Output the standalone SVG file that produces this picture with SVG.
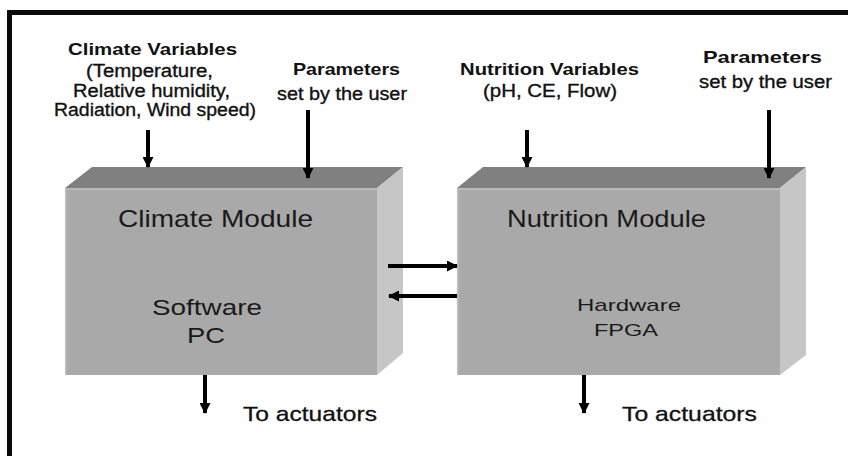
<svg xmlns="http://www.w3.org/2000/svg" width="848" height="456" viewBox="0 0 848 456">
<defs>
<style>
text{font-family:"Liberation Sans",Arial,sans-serif;fill:#111;}
.b{font-weight:bold;font-size:17px;}
.s{font-size:18px;stroke:#111;stroke-width:0.35;}
.mod{font-size:24px;fill:#1a1a1a;}
.sub{font-size:22px;fill:#1a1a1a;}
.hw{font-size:17px;fill:#1a1a1a;}
.act{font-size:21px;stroke:#111;stroke-width:0.3;}
.front{fill:#a9a9a9;}
.top{fill:#808080;}
.side{fill:#c6c6c6;}
.hl{stroke:#bababa;stroke-width:2;fill:none;}
.arr{stroke:#000;stroke-width:4;fill:none;marker-end:url(#ah);}
</style>
<marker id="ah" markerUnits="userSpaceOnUse" markerWidth="11" markerHeight="11" refX="10" refY="5.5" orient="auto">
<path d="M0,0 L11,5.5 L0,11 z" fill="#000"/>
</marker>
</defs>
<rect width="848" height="456" fill="#fff"/>
<path d="M9.5,456 V12.5 H848" fill="none" stroke="#0a0a0a" stroke-width="5"/>

<g id="climate-module">
<polygon class="top" points="65,188 92,167 403,167 377,188"/>
<polygon class="side" points="377,188 403,167 403,353 377,375"/>
<rect class="front" x="65" y="188" width="312" height="187"/>
<path class="hl" d="M66,375 V189 H377"/>
<text class="mod" x="118" y="227" textLength="195" lengthAdjust="spacingAndGlyphs">Climate Module</text>
<text class="sub" x="152" y="315" textLength="110" lengthAdjust="spacingAndGlyphs">Software</text>
<text class="sub" x="187" y="343" textLength="38" lengthAdjust="spacingAndGlyphs">PC</text>
</g>

<g id="nutrition-module">
<polygon class="top" points="457,188 483,167 806,167 780,188"/>
<polygon class="side" points="780,188 806,167 806,355 780,375"/>
<rect class="front" x="457" y="188" width="323" height="187"/>
<path class="hl" d="M458,375 V189 H780"/>
<text class="mod" x="507" y="227" textLength="199" lengthAdjust="spacingAndGlyphs">Nutrition Module</text>
<text class="hw" x="577" y="311" textLength="104" lengthAdjust="spacingAndGlyphs">Hardware</text>
<text class="hw" x="594" y="336" textLength="64" lengthAdjust="spacingAndGlyphs">FPGA</text>
</g>

<g id="climate-variables">
<text class="b" x="68" y="55" textLength="169" lengthAdjust="spacingAndGlyphs">Climate Variables</text>
<text class="s" x="86" y="77" textLength="127" lengthAdjust="spacingAndGlyphs">(Temperature,</text>
<text class="s" x="73" y="97" textLength="157" lengthAdjust="spacingAndGlyphs">Relative humidity,</text>
<text class="s" x="54" y="116" textLength="202" lengthAdjust="spacingAndGlyphs">Radiation, Wind speed)</text>
</g>
<g id="climate-parameters">
<text class="b" x="293" y="75" textLength="107" lengthAdjust="spacingAndGlyphs">Parameters</text>
<text class="s" x="277" y="100" textLength="130" lengthAdjust="spacingAndGlyphs">set by the user</text>
</g>
<g id="nutrition-variables">
<text class="b" x="460" y="75" textLength="179" lengthAdjust="spacingAndGlyphs">Nutrition Variables</text>
<text class="s" x="483" y="97" textLength="134" lengthAdjust="spacingAndGlyphs">(pH, CE, Flow)</text>
</g>
<g id="nutrition-parameters">
<text class="b" x="703" y="63" textLength="119" lengthAdjust="spacingAndGlyphs">Parameters</text>
<text class="s" x="699" y="88" textLength="133" lengthAdjust="spacingAndGlyphs">set by the user</text>
</g>
<g id="climate-actuators">
<text class="act" x="243" y="421" textLength="134" lengthAdjust="spacingAndGlyphs">To actuators</text>
</g>
<g id="nutrition-actuators">
<text class="act" x="622" y="421" textLength="135" lengthAdjust="spacingAndGlyphs">To actuators</text>
</g>

<g id="connectors">
<line class="arr" x1="148" y1="130" x2="148" y2="167"/>
<line class="arr" x1="308" y1="110" x2="308" y2="178"/>
<line class="arr" x1="527" y1="130" x2="527" y2="167"/>
<line class="arr" x1="769" y1="110" x2="769" y2="178"/>
<line class="arr" x1="388" y1="266" x2="457" y2="266"/>
<line class="arr" x1="457" y1="296" x2="389" y2="296"/>
<line class="arr" x1="205" y1="375" x2="205" y2="413"/>
<line class="arr" x1="584" y1="375" x2="584" y2="413"/>
</g>
</svg>
